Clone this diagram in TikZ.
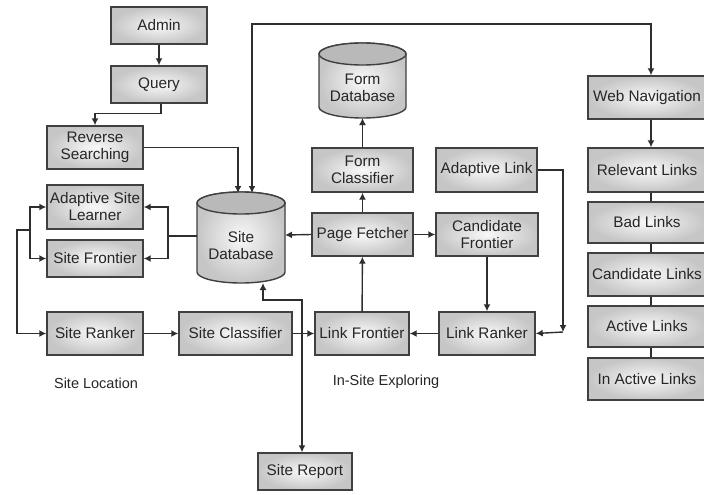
\documentclass[tikz,border=0pt]{standalone}
\usepackage{fontspec}
\setmainfont{Liberation Sans}
\usetikzlibrary{arrows.meta}
\definecolor{ln}{HTML}{2E2E2E}
\definecolor{bd}{HTML}{404040}
\definecolor{tx}{HTML}{262626}
\begin{document}
\begin{tikzpicture}[x=1pt,y=-1pt,
  every node/.style={font=\fontsize{15.3}{17}\selectfont, text=tx},
  box/.style={draw=bd, line width=1.4pt, shade, inner color=gray!5, outer color=gray!45, inner sep=0pt, align=center},
  conn/.style={draw=ln, line width=1.4pt},
  arr/.style={conn, -{Latex[length=7pt,width=7pt]}},
  darr/.style={conn, {Latex[length=7pt,width=7pt]}-{Latex[length=7pt,width=7pt]}},
  cyl/.style={draw=bd, line width=1.4pt, inner color=gray!5, outer color=gray!45},
  lab/.style={font=\fontsize{14.5}{17}\selectfont}
]
\useasboundingbox (0,0) rectangle (704,495);
\fill[white] (0,0) rectangle (704,495);

% cylinders
\shade[cyl] (197,203) -- (197,272) arc[start angle=180,end angle=0,x radius=44,y radius=11] -- (285,203) arc[start angle=0,end angle=-180,x radius=44,y radius=11] -- cycle;
\draw[draw=bd, line width=1.4pt, fill=gray!55] (241,203) ellipse[x radius=44, y radius=11];
\node[align=center] (sdb) at (241,246) {Site\\Database};
\shade[cyl] (319,54) -- (319,107) arc[start angle=180,end angle=0,x radius=43.5,y radius=11] -- (406,54) arc[start angle=0,end angle=-180,x radius=43.5,y radius=11] -- cycle;
\draw[draw=bd, line width=1.4pt, fill=gray!55] (362.5,54) ellipse[x radius=43.5, y radius=11];
\node[align=center] (fdb) at (362.5,88) {Form\\Database};

\coordinate (sdbTL) at (238,193);
\coordinate (sdbTR) at (252,193);
\coordinate (sdbW) at (197,236);
\coordinate (sdbE) at (285,235);
\coordinate (sdbS) at (263,283);
\coordinate (fdbS) at (362.5,118);

% boxes
\node[box, minimum width=96pt, minimum height=37pt] (admin) at (159,25.5) {Admin};
\node[box, minimum width=96pt, minimum height=37pt] (query) at (159,84.5) {Query};
\node[box, minimum width=96pt, minimum height=43pt] (rev) at (95,147.5) {Reverse\\Searching};
\node[box, minimum width=96pt, minimum height=44pt] (asl) at (95,207) {Adaptive Site\\Learner};
\node[box, minimum width=96pt, minimum height=37pt] (sfr) at (95,258.5) {Site Frontier};
\node[box, minimum width=96pt, minimum height=43pt] (srk) at (95,333.5) {Site Ranker};
\node[box, minimum width=113pt, minimum height=43pt] (scl) at (235.5,333.5) {Site Classifier};
\node[box, minimum width=94pt, minimum height=43pt] (lfr) at (362,333.5) {Link Frontier};
\node[box, minimum width=96pt, minimum height=43pt] (lrk) at (487,333.5) {Link Ranker};
\node[box, minimum width=101pt, minimum height=43pt] (pf) at (362.5,234.5) {Page Fetcher};
\node[box, minimum width=102pt, minimum height=43pt] (cf) at (487,234.5) {Candidate\\Frontier};
\node[box, minimum width=101pt, minimum height=44pt] (fc) at (362.5,170) {Form\\Classifier};
\node[box, minimum width=101pt, minimum height=44pt] (al) at (486.5,170) {Adaptive Link};
\node[box, minimum width=94pt, minimum height=37pt] (rep) at (305,471.5) {Site Report};

\node[box, minimum width=118pt, minimum height=43pt] (wn) at (647,97.5) {Web Navigation};
\node[box, minimum width=118pt, minimum height=44pt] (rl) at (647,170) {Relevant Links};
\node[box, minimum width=118pt, minimum height=41pt] (bl) at (647,222.5) {Bad Links};
\node[box, minimum width=118pt, minimum height=43pt] (cl) at (647,274.5) {Candidate Links};
\node[box, minimum width=118pt, minimum height=41pt] (acl) at (647,326.5) {Active Links};
\node[box, minimum width=118pt, minimum height=42pt] (ial) at (647,379) {In Active Links};

\node[lab] (loc) at (96,383) {Site Location};
\node[lab] (ise) at (386,382) {In-Site Exploring};

% connectors
\draw[arr] (admin) -- (query);
\draw[arr] (query.south) ++(2,0) -- ++(0,10) -| (rev.north);
\draw[arr] (rev.east) -| (sdbTL);
\draw[darr] (wn.north -| 651,0) |- (0,24 -| sdbTR) -- (sdbTR);
\coordinate (j1) at (168,236);
\draw[conn] (sdbW) -- (j1);
\draw[arr] (j1) |- (asl.east);
\draw[arr] (j1) |- (sfr.east);
\coordinate (j2) at (30,230);
\coordinate (j3) at (17,230);
\draw[arr] (j2) |- (asl.west);
\draw[arr] (j2) |- (sfr.west);
\draw[arr] (j2) -- (j3) |- (srk.west);
\draw[arr] (srk) -- (scl);
\draw[arr] (scl) -- (lfr);
\coordinate (rj) at (302,300);
\draw[darr] (sdbS) |- (rj) -- (rj |- rep.north);
\draw[arr] (pf.west) -- (sdbE);
\draw[arr] (pf) -- (cf);
\draw[arr] (cf) -- (lrk);
\draw[arr] (lrk) -- (lfr);
\draw[arr] (lfr) -- (pf);
\draw[arr] (pf) -- (fc);
\draw[arr] (fc) -- (fdbS);
\coordinate (ac) at (563,332);
\draw[arr] (al.east) -| (ac);
\draw[arr] (ac) -- (lrk.east);
\draw[arr] (wn.south -| 651,0) -- (rl.north -| 651,0);
\draw[conn] (rl.south -| 651,0) -- (bl.north -| 651,0);
\draw[conn] (bl.south -| 651,0) -- (cl.north -| 651,0);
\draw[conn] (cl.south -| 651,0) -- (acl.north -| 651,0);
\draw[conn] (acl.south -| 651,0) -- (ial.north -| 651,0);
\end{tikzpicture}
\end{document}
